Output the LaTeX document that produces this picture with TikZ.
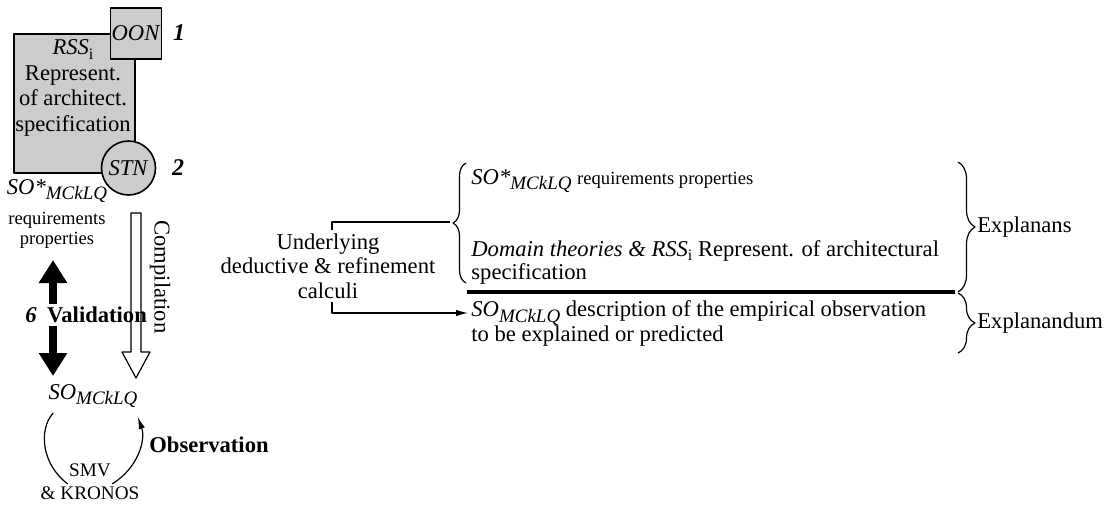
\documentclass[tikz,border=0pt]{standalone}
\usepackage{fontspec}
\setmainfont{Liberation Serif}
\usetikzlibrary{arrows.meta,decorations.pathreplacing}

\newcommand{\lowsub}[1]{\raisebox{-0.5ex}{\fontsize{9.5}{10}\selectfont\textit{#1}}}
\newcommand{\rssi}{\textit{RSS}\raisebox{-0.4ex}{\fontsize{8}{9}\selectfont i}}
\newcommand{\smalltxt}{\fontsize{9.3}{10.5}\selectfont}

\begin{document}
\begin{tikzpicture}[x=0.5pt,y=0.5pt,line join=round,>={Latex[length=6pt,width=3.2pt]},
    every node/.style={font=\fontsize{11.3}{12.2}\selectfont,inner sep=1.5pt},
    graybox/.style={draw,fill=gray!40,line width=0.8pt},
    brc/.style={decorate,decoration={brace,amplitude=#1},line width=0.6pt},
    bigarrow/.style={line width=4pt,-{Triangle[length=11.5pt,width=13.5pt]}}]
    \useasboundingbox (0,0) rectangle (1106,-504);
    \node[graybox,minimum width=60.5pt,minimum height=69.5pt] (rss) at (74.5,-103.5) {};
    \node[align=center,font=\fontsize{11.3}{12.7}\selectfont] (rsstxt) at (73,-88) {\rssi\\Represent.\\of architect.\\specification};
    \node[graybox,minimum size=25.5pt,inner sep=0pt] (oon) at (136,-33.5) {\textit{OON}};
    \node[graybox,circle,minimum size=27pt,inner sep=0pt] (stn) at (128.5,-168) {\textit{STN}};
    \node[font=\fontsize{12}{13}\bfseries\itshape] (one) at (179,-33) {1};
    \node[font=\fontsize{12}{13}\bfseries\itshape] (two) at (178,-168) {2};
    \node[align=center] (soreq) at (57,-214) {\textit{SO*}\lowsub{MCkLQ}\\[3pt]{\smalltxt requirements}\\[-2pt]{\smalltxt properties}};
    \node[font=\fontsize{11.3}{12}\bfseries] (valid) at (97,-315) {Validation};
    \node[font=\fontsize{11.3}{12}\bfseries\itshape] (six) at (31,-315) {6};
    \node[rotate=-90] (compl) at (160,-277) {Compilation};
    \node (somclq) at (93,-396) {\textit{SO}\lowsub{MCkLQ}};
    \node[font=\fontsize{9.6}{11}\selectfont] (smv) at (90,-470) {SMV};
    \node[font=\fontsize{9.6}{11}\selectfont] (kronos) at (90,-493) {\& KRONOS};
    \node[font=\fontsize{11.3}{12}\bfseries] (obs) at (209,-445) {Observation};
    \coordinate (vtop) at (53,-260);
    \coordinate (vbot) at (53,-376);
    \draw[bigarrow] (valid.north -| vtop) -- (vtop);
    \draw[bigarrow] (valid.south -| vbot) -- (vbot);
    \draw[line width=0.6pt] (131,-213) -- (131,-352) -- (122,-352) -- (136,-378) -- (150,-352) -- (141,-352) -- (141,-213) -- cycle;
    \draw[line width=0.6pt] ([shift={(4pt,-1pt)}]somclq.south west) .. controls (38,-430) and (42,-465) .. ([shift={(1pt,-2pt)}]smv.south west);
    \draw[line width=0.6pt,->] ([shift={(-1pt,-2pt)}]smv.south east) .. controls (138,-468) and (146,-440) .. ([shift={(-1.5pt,-3pt)}]somclq.south east);

    \node[align=center] (calc) at (328,-266) {Underlying\\deductive \& refinement\\calculi};
    \coordinate (lbtip) at (450,-222);
    \draw[brc=6.5pt] (466,-283) -- (466,-163);
    \node[anchor=west] (soreqr) at (468,-181) {\textit{SO*}\lowsub{MCkLQ} {\smalltxt requirements properties}};
    \node[anchor=north west,align=left,font=\fontsize{11.3}{11.5}\selectfont] (domain) at (468,-237) {\textit{Domain theories \&} \rssi{} Represent. of architectural\\specification};
    \draw[line width=1.6pt] (467,-292) -- (955,-292);
    \node[anchor=west] (sodesc) at (468,-313) {\textit{SO}\lowsub{MCkLQ} description of the empirical observation};
    \node[anchor=west] (sodesc2) at (468,-336) {to be explained or predicted};
    \draw[line width=0.6pt] (calc.north -| 332,0) |- (lbtip);
    \draw[line width=0.6pt,->] (calc.south -| 332,0) |- (sodesc.west);
    \draw[brc=8.5pt] (958,-162) -- (958,-292);
    \draw[brc=8.5pt] (958,-293) -- (958,-353);
    \node[anchor=west] (explanans) at (974,-227) {Explanans};
    \node[anchor=west] (explanandum) at (974,-323) {Explanandum};
\end{tikzpicture}
\end{document}
